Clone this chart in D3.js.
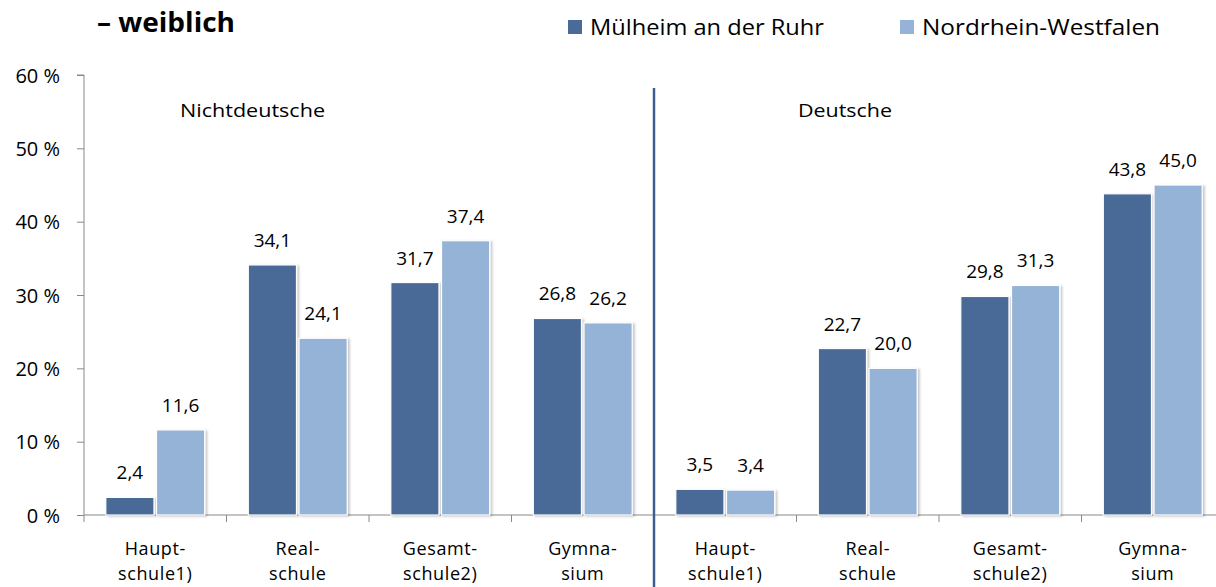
<!DOCTYPE html>
<html>
<head>
<meta charset="utf-8">
<script src="https://cdn.jsdelivr.net/npm/d3@7"></script>
<style>
  body { margin: 0; background: #fff; }
  svg text { font-family: "Open Sans", "Noto Sans", sans-serif; fill: #000; }
</style>
</head>
<body>
<svg id="chart"></svg>
<script>
// schools per nationality group, two lines per label
var categories = ["Haupt-|schule1)", "Real-|schule", "Gesamt-|schule2)", "Gymna-|sium",
                  "Haupt-|schule1)", "Real-|schule", "Gesamt-|schule2)", "Gymna-|sium"];
var groups = ["Nichtdeutsche", "Deutsche"];
var series = ["Mülheim an der Ruhr", "Nordrhein-Westfalen"];
var muelheim = [2.4, 34.1, 31.7, 26.8, 3.5, 22.7, 29.8, 43.8];
var nrw = [11.6, 24.1, 37.4, 26.2, 3.4, 20.0, 31.3, 45.0];
var yTicks = [0, 10, 20, 30, 40, 50, 60];
var colors = ["#4a6a97", "#95b3d7"];

var width = 1216, height = 587;
var svg = d3.select("#chart").attr("width", width).attr("height", height);

var defs = svg.append("defs");
var f = defs.append("filter").attr("id", "shadow").attr("x", "-10%").attr("y", "-10%").attr("width", "130%").attr("height", "130%");
f.append("feDropShadow").attr("dx", 2).attr("dy", 1).attr("stdDeviation", 1.2).attr("flood-color", "#000").attr("flood-opacity", 0.22);

var x0 = 84, step = 142.5;
var x = d3.scaleBand().domain(d3.range(categories.length))
  .range([x0, x0 + step * categories.length]).paddingInner(0).paddingOuter(0);
var xs = d3.scaleBand().domain([0, 1]).range([0, x.bandwidth()]).paddingInner(0.05).paddingOuter(0.43);
var y = d3.scaleLinear().domain([0, 60]).range([515, 75]);

// y axis
var yAxis = svg.append("g").attr("transform", "translate(" + x0 + ",0)")
  .call(d3.axisLeft(y).tickValues(yTicks).tickSize(7).tickPadding(17).tickFormat(function(d) { return d + " %"; }));
yAxis.select(".domain").attr("stroke", "#888").attr("d", "M-7," + y(60) + "H0V" + y(0));
yAxis.selectAll(".tick line").attr("stroke", "#888");
yAxis.selectAll("text").style("font-size", "20px").attr("dy", "0.36em");

// x axis
var xAxis = svg.append("g").attr("transform", "translate(0," + y(0) + ")");
xAxis.append("line").attr("x1", x0).attr("x2", width).attr("stroke", "#888");
xAxis.selectAll("line.tk").data(d3.range(categories.length + 1)).enter().append("line")
  .attr("class", "tk")
  .attr("x1", function(d) { return x0 + d * step; }).attr("x2", function(d) { return x0 + d * step; })
  .attr("y1", 0).attr("y2", 7).attr("stroke", "#888");

// two separate lines per category label
var lineY = [555, 580];
var labels = svg.append("g").selectAll("g").data(categories).enter().append("g")
  .attr("transform", function(d, i) { return "translate(" + (x(i) + x.bandwidth() / 2) + ",0)"; });
labels.selectAll("text").data(function(d) { return d.split("|"); }).enter().append("text")
  .attr("text-anchor", "middle").attr("y", function(d, k) { return lineY[k]; })
  .style("font-size", "18px").style("letter-spacing", "0.6px")
  .text(function(d) { return d; });

// bars
var rows = categories.map(function(c, i) { return [muelheim[i], nrw[i]]; });
var g = svg.append("g").selectAll("g").data(rows).enter().append("g")
  .attr("transform", function(d, i) { return "translate(" + x(i) + ",0)"; });

g.selectAll("rect").data(function(d) { return d; }).enter().append("rect")
  .attr("x", function(d, j) { return xs(j); })
  .attr("width", xs.bandwidth())
  .attr("y", function(d) { return y(d); })
  .attr("height", function(d) { return y(0) - y(d); })
  .attr("fill", function(d, j) { return colors[j]; })
  .attr("stroke", "#fff").attr("stroke-width", 1.2)
  .attr("filter", "url(#shadow)");

g.selectAll("text").data(function(d) { return d; }).enter().append("text")
  .attr("x", function(d, j) { return xs(j) + xs.bandwidth() / 2; })
  .attr("y", function(d) { return y(d) - 18; })
  .attr("text-anchor", "middle").style("font-size", "19px")
  .text(function(d) { return d3.format(".1f")(d).replace(".", ","); });

// separator
svg.append("line").attr("x1", x0 + step * 4).attr("x2", x0 + step * 4)
  .attr("y1", 88).attr("y2", height).attr("stroke", "#3d5f8f").attr("stroke-width", 2.5);

// group titles
var grpX = [180, 798], grpW = [145, 94];
svg.selectAll("text.grp").data(groups).enter().append("text").attr("class", "grp")
  .attr("x", function(d, i) { return grpX[i]; }).attr("y", 117)
  .attr("textLength", function(d, i) { return grpW[i]; }).attr("lengthAdjust", "spacingAndGlyphs")
  .style("font-size", "19px").text(function(d) { return d; });

// title
svg.append("text").attr("x", 97).attr("y", 32).attr("textLength", 138).attr("lengthAdjust", "spacingAndGlyphs")
  .style("font-size", "26px").style("font-weight", "bold").text("– weiblich");

// legend
var legX = [568, 900], legW = [234, 238];
var leg = svg.selectAll("g.leg").data(series).enter().append("g").attr("class", "leg")
  .attr("transform", function(d, i) { return "translate(" + legX[i] + ",20)"; });
leg.append("rect").attr("width", 14).attr("height", 14).attr("fill", function(d, i) { return colors[i]; });
leg.append("text").attr("x", 22).attr("y", 15)
  .attr("textLength", function(d, i) { return legW[i]; }).attr("lengthAdjust", "spacingAndGlyphs")
  .style("font-size", "21px").text(function(d) { return d; });
</script>
</body>
</html>
